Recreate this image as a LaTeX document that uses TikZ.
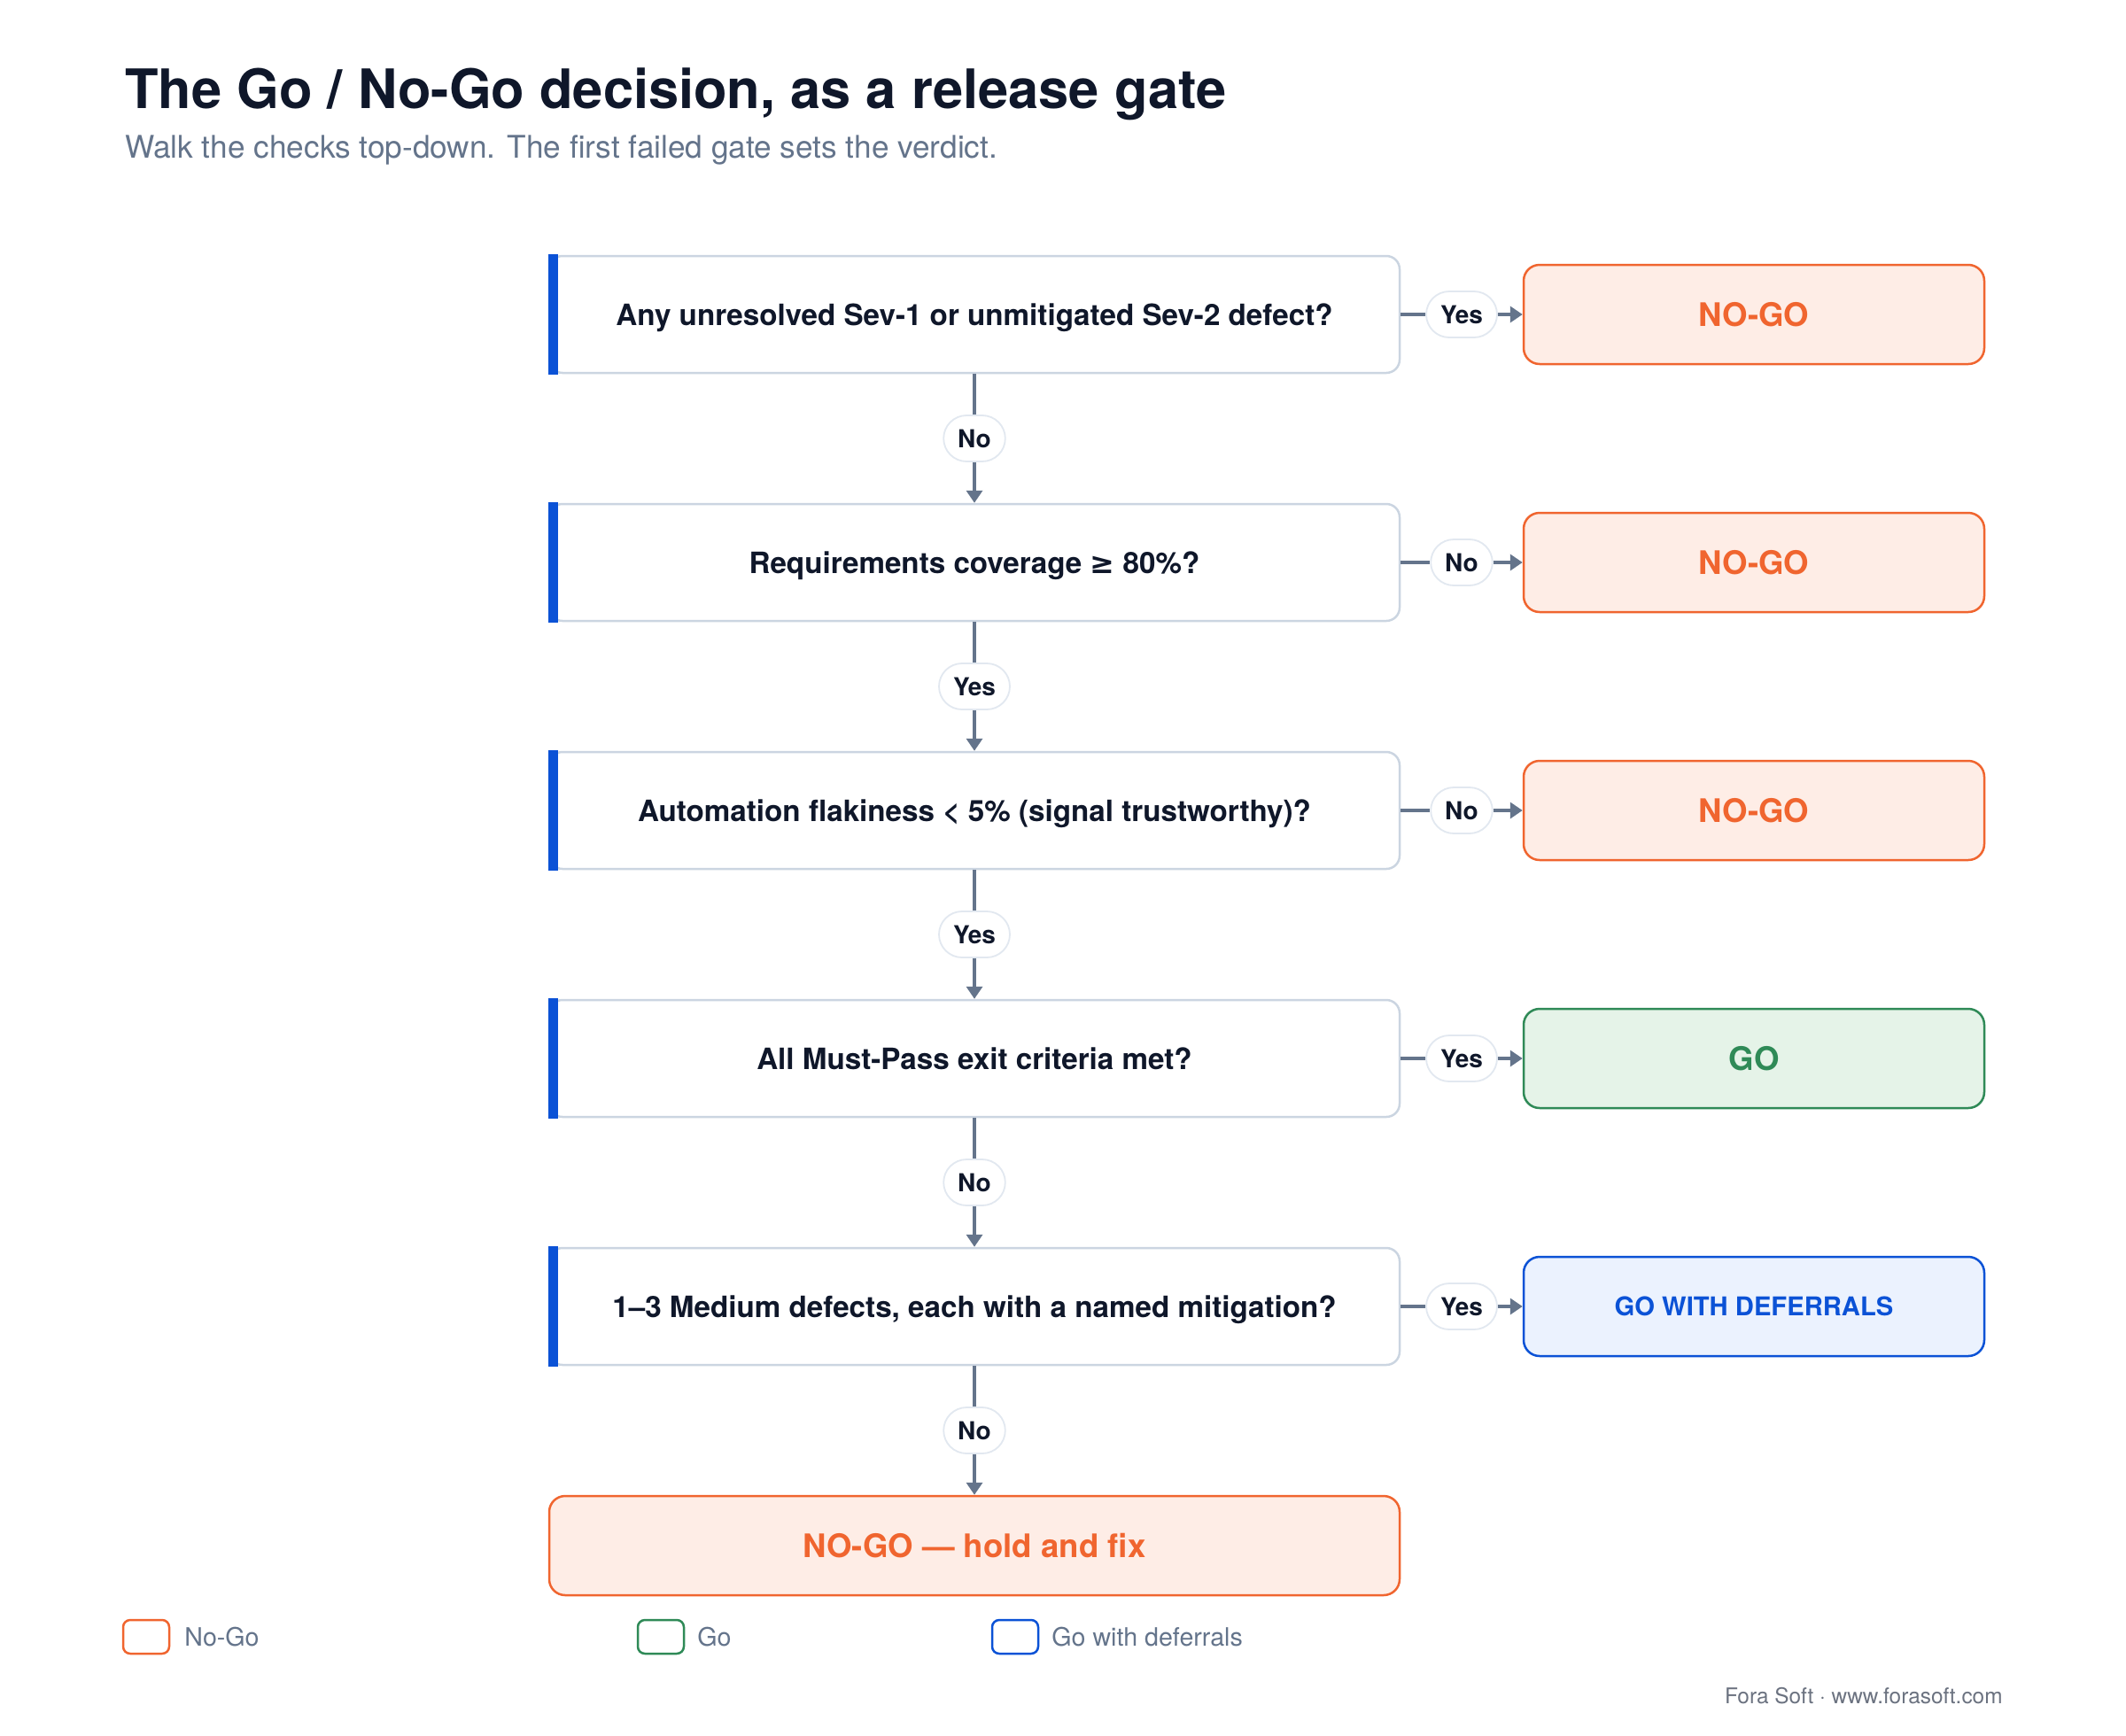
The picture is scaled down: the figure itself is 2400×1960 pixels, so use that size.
\documentclass[tikz,border=0pt]{standalone}
\usepackage{fontspec}
\setmainfont{TeX Gyre Heros}
\newfontfamily\symfont{DejaVu Sans}
\usetikzlibrary{arrows.meta}
\definecolor{ink}{HTML}{0F172A}
\definecolor{slate}{HTML}{64748B}
\definecolor{boxline}{HTML}{CBD5E1}
\definecolor{pillline}{HTML}{E2E8F0}
\definecolor{barblue}{HTML}{0B52D6}
\definecolor{nogoline}{HTML}{F0652F}
\definecolor{nogofill}{HTML}{FEEDE6}
\definecolor{goline}{HTML}{2F8A57}
\definecolor{gofill}{HTML}{E5F3E8}
\definecolor{defline}{HTML}{0B52D6}
\definecolor{deffill}{HTML}{EBF2FE}
\definecolor{foot}{HTML}{6B7280}
\begin{document}
\begin{tikzpicture}[x=0.5pt,y=-0.5pt,
  qbox/.style={text height=12pt, text depth=0pt, draw=boxline, line width=1.25pt, fill=white, rounded corners=7.5pt, minimum width=480pt, minimum height=66pt, inner sep=0pt, font=\fontsize{16.6}{19}\selectfont\bfseries, text=ink},
  verdict/.style={text height=13.2pt, text depth=0pt, line width=1.25pt, rounded corners=9pt, minimum width=260pt, minimum height=56pt, inner sep=0pt, font=\fontsize{18.3}{21}\selectfont\bfseries},
  nogo/.style={verdict, draw=nogoline, fill=nogofill, text=nogoline},
  go/.style={verdict, draw=goline, fill=gofill, text=goline},
  defer/.style={verdict, draw=defline, fill=deffill, text=defline, text height=10.5pt, font=\fontsize{14.6}{18}\selectfont\bfseries},
  pill/.style={text height=10.1pt, text depth=0pt, draw=pillline, line width=0.9pt, fill=white, rounded corners=13pt, minimum height=26pt, inner xsep=8pt, inner ysep=0pt, font=\fontsize{14}{16}\selectfont\bfseries, text=ink},
  conn/.style={draw=slate, line width=1.75pt},
  arr/.style={conn, -{Triangle[length=7pt,width=9pt]}},
  legsq/.style={draw, line width=1.25pt, rounded corners=4pt, minimum width=26pt, minimum height=19pt, inner sep=0pt, fill=white},
  legtxt/.style={text height=10.3pt, text depth=0pt, anchor=west, inner sep=0pt, font=\fontsize{14.3}{17}\selectfont, text=slate},
  bar/.style={fill=barblue}
]
\useasboundingbox[fill=white] (0,0) rectangle (2400,1960);

% title
\node[anchor=base west, inner sep=0pt, text=ink, font=\fontsize{30.7}{37}\selectfont\bfseries] (title) at (141,122) {The Go / No-Go decision, as a release gate};
\node[anchor=base west, inner sep=0pt, text=slate, font=\fontsize{17.6}{21}\selectfont] (subtitle) at (141,178) {Walk the checks top-down. The first failed gate sets the verdict.};

% question boxes
\node[qbox] (q1) at (1100,355) {Any unresolved Sev-1 or unmitigated Sev-2 defect?};
\node[qbox] (q2) at (1100,635) {Requirements coverage {\symfont\bfseries ≥} 80\%?};
\node[qbox] (q3) at (1100,915) {Automation flakiness < 5\% (signal trustworthy)?};
\node[qbox] (q4) at (1100,1195) {All Must-Pass exit criteria met?};
\node[qbox] (q5) at (1100,1475) {1–3 Medium defects, each with a named mitigation?};
\foreach \q in {q1,q2,q3,q4,q5}{
  \fill[bar] ([yshift=0.6pt]\q.north west) rectangle ([xshift=5.5pt,yshift=-0.6pt]\q.south west);
}

% verdict boxes
\node[nogo] (r1) at (1980,355) {NO-GO};
\node[nogo] (r2) at (1980,635) {NO-GO};
\node[nogo] (r3) at (1980,915) {NO-GO};
\node[go] (r4) at (1980,1195) {GO};
\node[defer] (r5) at (1980,1475) {GO WITH DEFERRALS};
\node[nogo, minimum width=480pt] (fin) at (1100,1745) {NO-GO — hold and fix};

% horizontal labels
\node[pill] (h1) at (1650,355) {Yes};
\node[pill] (h2) at (1650,635) {No};
\node[pill] (h3) at (1650,915) {No};
\node[pill] (h4) at (1650,1195) {Yes};
\node[pill] (h5) at (1650,1475) {Yes};

% vertical labels
\node[pill] (v1) at (1100,495) {No};
\node[pill] (v2) at (1100,775) {Yes};
\node[pill] (v3) at (1100,1055) {Yes};
\node[pill] (v4) at (1100,1335) {No};
\node[pill] (v5) at (1100,1615) {No};

% connectors
\foreach \i in {1,...,5}{
  \draw[conn] (q\i.east) -- (h\i.west);
  \draw[arr] (h\i.east) -- (r\i.west);
}
\draw[conn] (q1.south) -- (v1.north); \draw[arr] (v1.south) -- (q2.north);
\draw[conn] (q2.south) -- (v2.north); \draw[arr] (v2.south) -- (q3.north);
\draw[conn] (q3.south) -- (v3.north); \draw[arr] (v3.south) -- (q4.north);
\draw[conn] (q4.south) -- (v4.north); \draw[arr] (v4.south) -- (q5.north);
\draw[conn] (q5.south) -- (v5.north); \draw[arr] (v5.south) -- (fin.north);

% legend
\node[legsq, draw=nogoline] (lg1) at (165,1848) {};
\node[legtxt] (lt1) at (208,1848) {No-Go};
\node[legsq, draw=goline] (lg2) at (746,1848) {};
\node[legtxt] (lt2) at (787,1848) {Go};
\node[legsq, draw=defline] (lg3) at (1146,1848) {};
\node[legtxt] (lt3) at (1187,1848) {Go with deferrals};

% footer
\node[anchor=base east, inner sep=0pt, text=foot, font=\fontsize{12.2}{15}\selectfont] (footer) at (2261,1923) {Fora Soft · www.forasoft.com};
\end{tikzpicture}
\end{document}
